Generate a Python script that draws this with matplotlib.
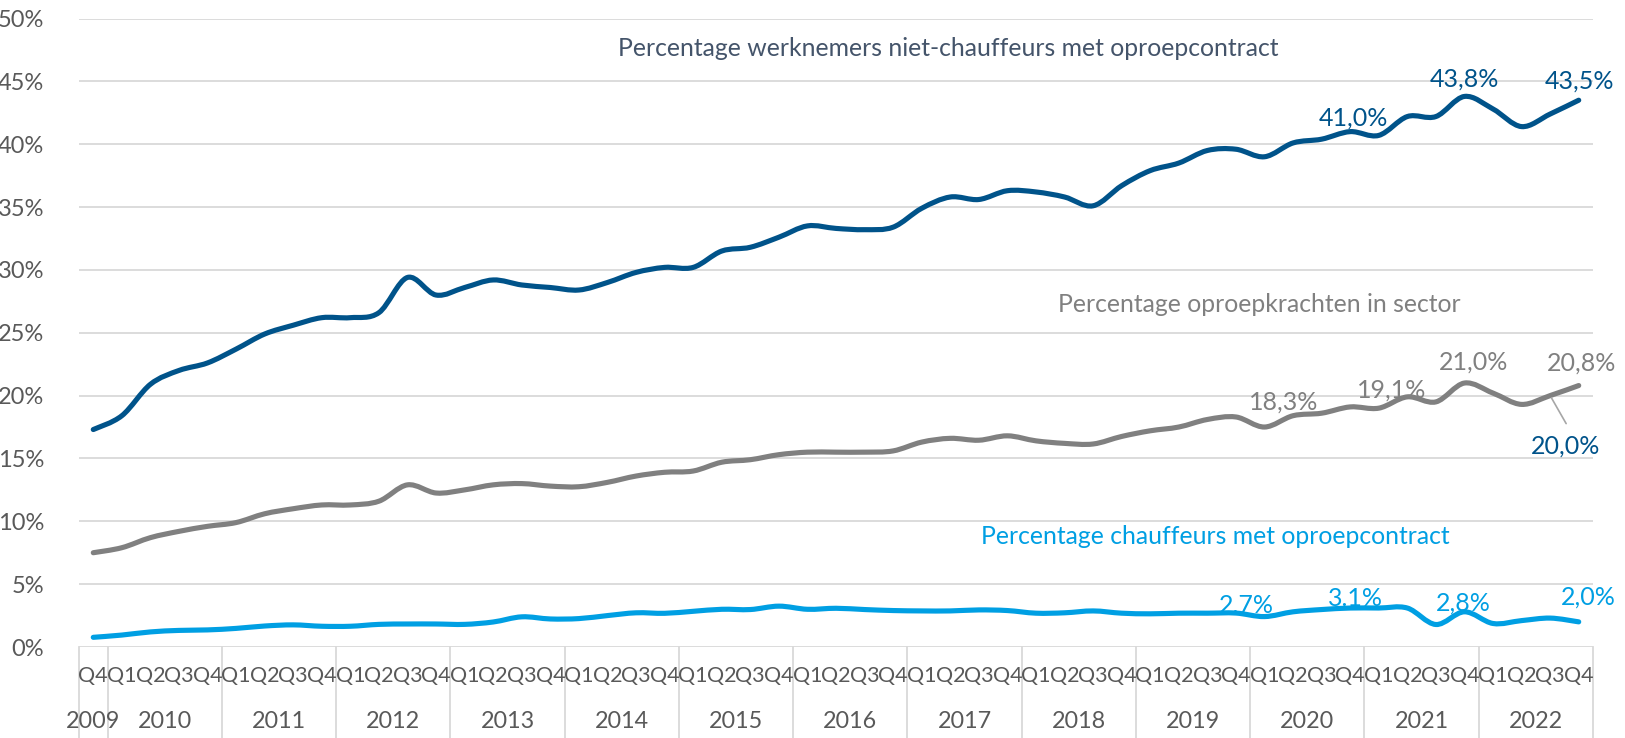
import matplotlib
matplotlib.use("Agg")
import matplotlib.pyplot as plt
from matplotlib.path import Path
from matplotlib.patches import PathPatch
from matplotlib.transforms import blended_transform_factory
import numpy as np

plt.rcParams['font.family'] = ['Lato', 'DejaVu Sans']

# ---------------- data ----------------
quarters = ["Q4"] + ["Q1", "Q2", "Q3", "Q4"] * 13
years = ["2009", "2010", "2011", "2012", "2013", "2014", "2015", "2016",
         "2017", "2018", "2019", "2020", "2021", "2022"]

niet_chauffeurs = [17.3, 18.4, 20.9, 22.0, 22.6, 23.7, 24.9, 25.6, 26.2, 26.2,
                   26.6, 29.4, 28.0, 28.6, 29.2, 28.8, 28.6, 28.4, 29.0, 29.8,
                   30.2, 30.2, 31.5, 31.8, 32.6, 33.5, 33.3, 33.2, 33.4, 34.9,
                   35.8, 35.6, 36.3, 36.2, 35.8, 35.1, 36.7, 37.9, 38.5, 39.5,
                   39.6, 39.0, 40.1, 40.4, 41.0, 40.7, 42.2, 42.2, 43.8, 42.8,
                   41.4, 42.4, 43.5]

sector = [7.5, 7.9, 8.7, 9.2, 9.6, 9.9, 10.6, 11.0, 11.3, 11.3,
          11.6, 12.9, 12.25, 12.5, 12.9, 13.0, 12.8, 12.75, 13.1, 13.6,
          13.9, 14.0, 14.7, 14.9, 15.3, 15.5, 15.5, 15.5, 15.6, 16.3,
          16.6, 16.45, 16.8, 16.4, 16.2, 16.15, 16.75, 17.2, 17.5, 18.1,
          18.3, 17.5, 18.4, 18.6, 19.1, 19.0, 19.9, 19.5, 21.0, 20.2,
          19.3, 20.0, 20.8]

chauffeurs = [0.77, 0.95, 1.2, 1.32, 1.36, 1.48, 1.67, 1.76, 1.65, 1.65,
              1.8, 1.83, 1.83, 1.8, 1.99, 2.4, 2.23, 2.26, 2.5, 2.72,
              2.68, 2.84, 3.0, 2.98, 3.25, 3.0, 3.08, 2.98, 2.9, 2.87,
              2.87, 2.95, 2.9, 2.69, 2.72, 2.87, 2.69, 2.64, 2.69, 2.69,
              2.7, 2.42, 2.8, 2.98, 3.1, 3.1, 3.1, 1.79, 2.8, 1.87,
              2.1, 2.3, 2.0]

# data labels: (index, text, dx_px, dy_px)
labels_niet = [(44, "41,0%", 3, 14), (48, "43,8%", 0, 17), (52, "43,5%", 1, 19)]
labels_sector = [(40, "18,3%", 48, 15), (44, "19,1%", 41, 17),
                 (48, "21,0%", 9, 21), (52, "20,8%", 3, 22)]
labels_chauf = [(40, "2.7%", 10, 8), (44, "3.1%", 5, 10),
                (48, "2,8%", -1, 9), (52, "2,0%", 10, 25)]

C_DARK = "#00538A"
C_GRAY = "#808080"
C_LIGHT = "#009FE3"
C_TITLE1 = "#44546A"
C_TXT = "#595959"
C_GRID = "#D9D9D9"

fig = plt.figure(figsize=(16.25, 7.38), dpi=100)
ax = fig.add_axes([79 / 1625, 1 - 647 / 738, (1593 - 79) / 1625, (647 - 18.5) / 738])

n = len(quarters)
x = np.arange(n)


def smooth_path(xs, ys):
    xs = np.asarray(xs, float)
    ys = np.asarray(ys, float)
    verts = [(xs[0], ys[0])]
    codes = [Path.MOVETO]
    m = len(xs)
    for i in range(m - 1):
        p0 = (xs[max(i - 1, 0)], ys[max(i - 1, 0)])
        p1 = (xs[i], ys[i])
        p2 = (xs[i + 1], ys[i + 1])
        p3 = (xs[min(i + 2, m - 1)], ys[min(i + 2, m - 1)])
        c1 = (p1[0] + (p2[0] - p0[0]) / 6, p1[1] + (p2[1] - p0[1]) / 6)
        c2 = (p2[0] - (p3[0] - p1[0]) / 6, p2[1] - (p3[1] - p1[1]) / 6)
        verts += [c1, c2, p2]
        codes += [Path.CURVE4] * 3
    return Path(verts, codes)


for series, col in [(chauffeurs, C_LIGHT), (sector, C_GRAY), (niet_chauffeurs, C_DARK)]:
    patch = PathPatch(smooth_path(x, series), facecolor="none", edgecolor=col,
                      lw=3.7, capstyle="round", joinstyle="round", zorder=3)
    ax.add_patch(patch)

ax.set_xlim(-0.5, n - 0.5)
ax.set_ylim(0, 50)
ax.set_yticks(np.arange(0, 51, 5))
ax.set_yticklabels([f"{v}%" for v in range(0, 51, 5)])
ax.tick_params(axis="y", length=0, pad=25, labelsize=17, labelcolor=C_TXT)
ax.set_xticks([])
for s in ax.spines.values():
    s.set_visible(False)
ax.yaxis.grid(True, color=C_GRID, lw=1.3, zorder=0)
ax.set_axisbelow(True)

# x-axis category labels
trans = blended_transform_factory(ax.transData, ax.transAxes)
for i, q in enumerate(quarters):
    ax.text(i, -0.046, q, transform=trans, ha="center", va="center",
            fontsize=15.5, color=C_TXT)
year_pos = [0] + [4 * k + 2.5 for k in range(13)]
for xp, yl in zip(year_pos, years):
    ax.text(xp, -0.119, yl, transform=trans, ha="center", va="center",
            fontsize=16.8, color=C_TXT)
seps = [-0.5] + [0.5 + 4 * k for k in range(14)]
for sx in seps:
    ax.plot([sx, sx], [0, -0.146], transform=trans, clip_on=False,
            color=C_GRID, lw=1.3)

# data labels
for series, labs, col in [(niet_chauffeurs, labels_niet, C_DARK),
                          (sector, labels_sector, C_GRAY),
                          (chauffeurs, labels_chauf, C_LIGHT)]:
    for i, t, dx, dy in labs:
        ax.annotate(t, xy=(i, series[i]), xytext=(dx, dy), textcoords="offset pixels",
                    ha="center", va="center", fontsize=18, color=col, zorder=4)

# 20,0% label with leader line
ax.annotate("", xy=(51, sector[51]), xytext=(16, -28), textcoords="offset pixels",
            arrowprops=dict(arrowstyle="-", color="#A6A6A6", lw=1.2, shrinkA=0, shrinkB=2))
ax.annotate("20,0%", xy=(51, sector[51]), xytext=(15, -50), textcoords="offset pixels",
            ha="center", va="center", fontsize=18, color=C_DARK)

# series titles
fig.text(948 / 1625, 1 - 49 / 738, "Percentage werknemers niet-chauffeurs met oproepcontract",
         ha="center", va="center", fontsize=17.8, color=C_TITLE1)
fig.text(1259 / 1625, 1 - 305 / 738, "Percentage oproepkrachten in sector",
         ha="center", va="center", fontsize=17.8, color=C_GRAY)
fig.text(1215 / 1625, 1 - 537 / 738, "Percentage chauffeurs met oproepcontract",
         ha="center", va="center", fontsize=17.8, color=C_LIGHT)

fig.savefig("out.png", dpi=100)
